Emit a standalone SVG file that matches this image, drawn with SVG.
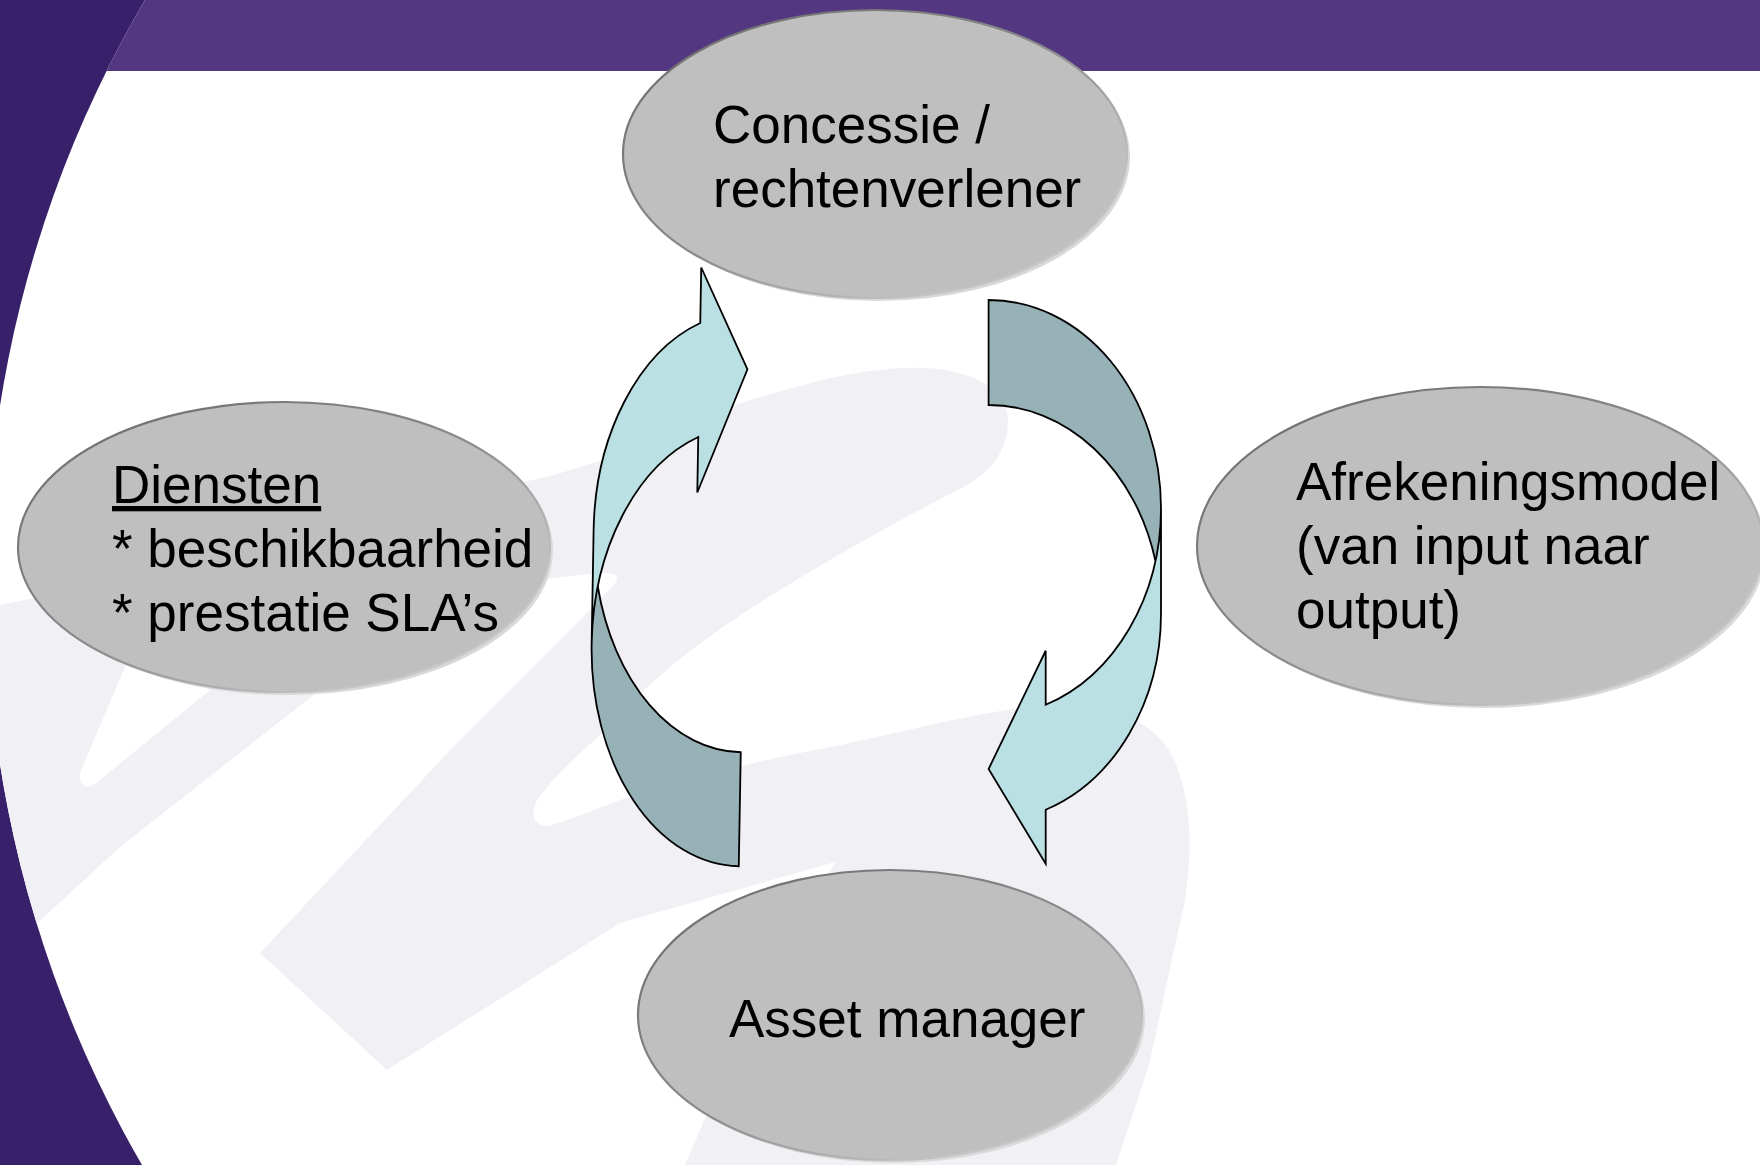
<svg xmlns="http://www.w3.org/2000/svg" width="1760" height="1165" viewBox="0 0 1760 1165">
<defs>
<style>
.lbl{font-family:"Liberation Sans",Arial,sans-serif;font-size:53px;fill:#000000}
.shadow{fill:#D9D9D9}
.oval{fill:#BFBFBF;stroke:url(#rim);stroke-width:2.2}
.light{fill:#BBE0E3;stroke:none}
.dark{fill:#97B2B7;stroke:none}
.outline{fill:none;stroke:#000000;stroke-width:1.8;stroke-linejoin:miter}
.wm{fill:#F1F0F5}
</style>
<linearGradient id="rim" x1="0" y1="0" x2="1" y2="1">
<stop offset="0" stop-color="#6A6A6A"/>
<stop offset="0.5" stop-color="#8C8C8C"/>
<stop offset="0.8" stop-color="#C4C4C4"/>
<stop offset="1" stop-color="#D0D0D0"/>
</linearGradient>
<clipPath id="page"><circle cx="1142" cy="585" r="1156"/></clipPath>
</defs>

<g id="background">
<rect x="0" y="0" width="1760" height="1165" fill="#38206A"/>
<g clip-path="url(#page)">
<rect x="0" y="0" width="1760" height="1165" fill="#FFFFFF"/>
<rect x="0" y="0" width="1760" height="71" fill="#533780"/>
<path class="wm" d="M 0,605 C 180,570 400,510 546,477 C 640,452 700,418 744,402 C 800,385 850,372 880,370 C 960,360 1008,385 1008,420 C 1008,460 980,480 952,493 C 880,530 820,565 764,600 C 700,640 650,680 620,716 C 590,745 560,770 545,790 C 530,805 528,826 548,826 C 570,820 600,808 620,800 C 700,775 770,758 826,748 C 900,733 960,716 1015,709 C 1100,698 1160,715 1178,770 C 1192,810 1192,850 1185,900 L 1149,1065 L 1116,1165 L 685,1165 L 718,1088 L 835,862 L 620,923 L 387,1070 L 260,953 L 453,747 L 587,613 C 600,600 614,586 617,580 C 619,572 605,572 590,574 L 551,578 L 320,690 L 120,847 L 30,930 L 0,930 Z"/>
<path fill="#FFFFFF" d="M 128,660 L 82,768 C 76,782 84,792 95,784 L 215,686 Z"/>
</g>
</g>

<g id="node-concessie">
<ellipse class="shadow" cx="878" cy="157" rx="252" ry="144"/>
<ellipse class="oval" cx="875" cy="154" rx="252" ry="144"/>
<text class="lbl" x="713" y="143">Concessie /</text>
<text class="lbl" x="713" y="207">rechtenverlener</text>
</g>

<g id="node-diensten">
<ellipse class="shadow" cx="287" cy="550" rx="266" ry="145"/>
<ellipse class="oval" cx="284" cy="547" rx="266" ry="145"/>
<text class="lbl" x="112" y="503" text-decoration="underline">Diensten</text>
<text class="lbl" x="112" y="567">* beschikbaarheid</text>
<text class="lbl" x="112" y="631">* prestatie SLA’s</text>
</g>

<g id="node-afrekeningsmodel">
<ellipse class="shadow" cx="1483" cy="549" rx="283" ry="159"/>
<ellipse class="oval" cx="1480" cy="546" rx="283" ry="159"/>
<text class="lbl" x="1296" y="500">Afrekeningsmodel</text>
<text class="lbl" x="1296" y="564">(van input naar</text>
<text class="lbl" x="1296" y="628">output)</text>
</g>

<g id="node-asset">
<ellipse class="shadow" cx="893" cy="1018" rx="252" ry="145"/>
<ellipse class="oval" cx="890" cy="1015" rx="252" ry="145"/>
<text class="lbl" x="729" y="1037">Asset manager</text>
</g>

<g id="connectors">
<g id="arrow-left" transform="rotate(1 670 566)">
<path class="light" d="M 593,645 A 151 220 0 0 1 696,436.5 L 696,492 L 744,368 L 696,267 L 696,322.5 A 151 220 0 0 0 593,531 Z"/>
<path class="dark" d="M 744,751 A 151 220 0 0 1 598.2,588 A 151 220 0 0 0 744,865 Z"/>
<path class="outline" d="M 593,645 A 151 220 0 0 1 696,436.5 L 696,492 L 744,368 L 696,267 L 696,322.5 A 151 220 0 0 0 593,531 L 593,645 A 151 220 0 0 0 744,865 L 744,751 A 151 220 0 0 1 598.2,588"/>
</g>
<g id="arrow-right">
<path class="light" d="M 1161,508.25 A 172.4 208.25 0 0 1 1045.7,704.75 L 1045.7,650.75 L 988.6,769 L 1045.7,863.75 L 1045.7,809.75 A 172.4 208.25 0 0 0 1161,613.25 Z"/>
<path class="dark" d="M 988.6,405 A 172.4 208.25 0 0 1 1155.4,560.75 A 172.4 208.25 0 0 0 988.6,300 Z"/>
<path class="outline" d="M 1161,508.25 A 172.4 208.25 0 0 1 1045.7,704.75 L 1045.7,650.75 L 988.6,769 L 1045.7,863.75 L 1045.7,809.75 A 172.4 208.25 0 0 0 1161,613.25 L 1161,508.25 A 172.4 208.25 0 0 0 988.6,300 L 988.6,405 A 172.4 208.25 0 0 1 1155.4,560.75"/>
</g>
</g>
</svg>
